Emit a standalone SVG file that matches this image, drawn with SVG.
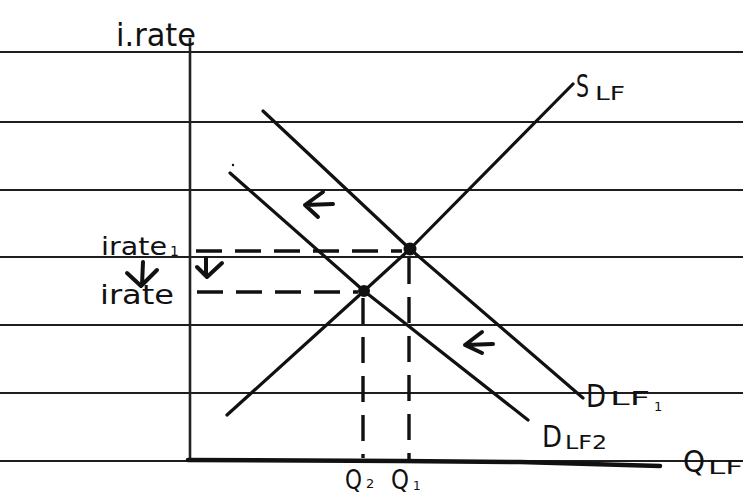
<svg xmlns="http://www.w3.org/2000/svg" width="743" height="500" viewBox="0 0 743 500">
<style>
.rule{stroke:#1e1e1e;stroke-width:2.2;fill:none}
.curve{stroke:#111;stroke-width:3.2;fill:none;stroke-linecap:round;stroke-linejoin:round}
.dash{stroke:#111;stroke-width:3.4;fill:none;stroke-dasharray:26 13}
.arr{stroke:#111;stroke-width:4;fill:none;stroke-linecap:round;stroke-linejoin:round}
.lbl{font-family:"DejaVu Sans","Liberation Sans",sans-serif;fill:#111}
</style>
<rect width="743" height="500" fill="#fff"/>
<g id="ruled-lines">
<line class="rule" x1="0" y1="52" x2="743" y2="52"/>
<line class="rule" x1="0" y1="122" x2="743" y2="122"/>
<line class="rule" x1="0" y1="190" x2="743" y2="190"/>
<line class="rule" x1="0" y1="257" x2="743" y2="257"/>
<line class="rule" x1="0" y1="325" x2="743" y2="325"/>
<line class="rule" x1="0" y1="393" x2="743" y2="393"/>
<line class="rule" x1="0" y1="461" x2="743" y2="461"/>
</g>
<g id="axes">
<line x1="190" y1="38" x2="190" y2="461" stroke="#222" stroke-width="2.6"/>
<path d="M188 460 L400 461 L520 462 L660 466" stroke="#111" stroke-width="4.5" fill="none" stroke-linecap="round"/>
</g>
<g id="connectors">
<path id="S_LF" class="curve" d="M227 415 L364 291 L410 249 L573 84"/>
<path id="D_LF1" class="curve" d="M263 111 L410 249 L583 398"/>
<path id="D_LF2" class="curve" d="M230 173 L364 291 L528 420"/>
<circle cx="233" cy="165" r="1.2" fill="#111"/>
<line class="dash" x1="196" y1="251" x2="402" y2="251"/>
<line class="dash" x1="197" y1="292" x2="358" y2="292"/>
<line class="dash" x1="363" y1="298" x2="363" y2="458"/>
<line class="dash" x1="409" y1="258" x2="409" y2="460"/>
</g>
<g id="points">
<circle cx="410" cy="249" r="6.5" fill="#111"/>
<circle cx="364" cy="291" r="6" fill="#111"/>
</g>
<g id="shift-arrows">
<path class="arr" d="M143 262 L142 285 M127 273 L141 286 L157 270"/>
<path class="arr" d="M206 258 L206 276 M197 267 L207 277 L222 263"/>
<path class="arr" d="M305 205 L333 204 M323 192 L305 205 L318 217"/>
<path class="arr" d="M465 345 L493 344 M482 332 L465 345 L482 353"/>
</g>
<g id="labels">
<text class="lbl" x="116" y="46" font-size="32" textLength="80" lengthAdjust="spacingAndGlyphs">i.rate</text>
<text class="lbl" x="101" y="255" font-size="25" textLength="66" lengthAdjust="spacingAndGlyphs">irate</text>
<text class="lbl" x="170" y="256" font-size="14">1</text>
<text class="lbl" x="100" y="304" font-size="26" textLength="74" lengthAdjust="spacingAndGlyphs">irate</text>
<text class="lbl" x="576" y="97" font-size="32" textLength="13" lengthAdjust="spacingAndGlyphs">S</text>
<text class="lbl" x="595" y="100" font-size="19" textLength="30" lengthAdjust="spacingAndGlyphs">LF</text>
<text class="lbl" x="586" y="407" font-size="32" textLength="20" lengthAdjust="spacingAndGlyphs">D</text>
<text class="lbl" x="610" y="405" font-size="20" textLength="40" lengthAdjust="spacingAndGlyphs">LF</text>
<text class="lbl" x="654" y="411" font-size="13">1</text>
<text class="lbl" x="542" y="447" font-size="31" textLength="20" lengthAdjust="spacingAndGlyphs">D</text>
<text class="lbl" x="565" y="449" font-size="20" textLength="42" lengthAdjust="spacingAndGlyphs">LF2</text>
<text class="lbl" x="683" y="472" font-size="30" textLength="22" lengthAdjust="spacingAndGlyphs">Q</text>
<text class="lbl" x="708" y="474" font-size="20" textLength="35" lengthAdjust="spacingAndGlyphs">LF</text>
<text class="lbl" x="345" y="489" font-size="26" textLength="17" lengthAdjust="spacingAndGlyphs">Q</text>
<text class="lbl" x="366" y="488" font-size="13">2</text>
<text class="lbl" x="391" y="489" font-size="26" textLength="18" lengthAdjust="spacingAndGlyphs">Q</text>
<text class="lbl" x="413" y="490" font-size="12">1</text>
</g>
</svg>
